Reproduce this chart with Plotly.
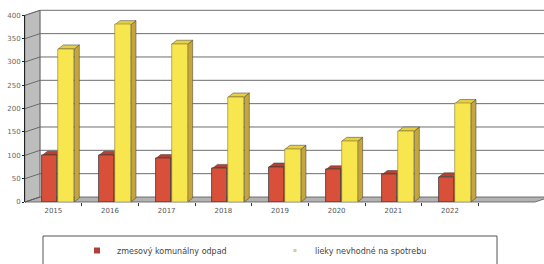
import plotly.graph_objects as go

# ---- data ----
years = ["2015", "2016", "2017", "2018", "2019", "2020", "2021", "2022"]
mixed_waste = [100, 100, 93, 72, 75, 69, 59, 54]
unfit_medicine = [328, 380, 338, 225, 113, 130, 152, 211]
y_ticks = [0, 50, 100, 150, 200, 250, 300, 350, 400]
series_names = ["zmesový komunálny odpad", "lieky nevhodné na spotrebu"]

# ---- geometry (pixels) ----
W_IMG, H_IMG = 544, 264
L, R, T, B = 25, 0, 10, 62
PW = W_IMG - L - R
PH = H_IMG - T - B
BOTTOM = H_IMG - B
X_END = 535
YTOP_FRONT = 186.7
DEPTH_X, DEPTH_Y = 15, 5
SLOT = (X_END - L) / 9.0
PXU = YTOP_FRONT / 400.0

def px(xp):
    return (xp - L) / PW

def py(yp):
    return (BOTTOM - yp) / PH

RED = "#d9503a"
RED_TOP = "#b8402f"
RED_SIDE = "#a33526"
YEL = "#f8e64e"
YEL_TOP = "#e6cf42"
YEL_SIDE = "#c6a63a"
OUT = "#3a3a3a"

xs = list(range(len(years)))
off_r, w_r = -11 / SLOT, 15 / SLOT
off_y, w_y = 5 / SLOT, 16 / SLOT
ddx, ddy = 5 / SLOT, 4 / PXU

fig = go.Figure()
fig.add_trace(go.Bar(x=xs, y=mixed_waste, name=series_names[0], offset=off_r, width=w_r,
                     showlegend=False,
                     marker=dict(color=RED, line=dict(color=OUT, width=0.8))))
fig.add_trace(go.Bar(x=xs, y=unfit_medicine, name=series_names[1], offset=off_y, width=w_y,
                     showlegend=False,
                     marker=dict(color=YEL, line=dict(color="#8a7a30", width=0.6))))
fig.add_trace(go.Scatter(x=[None], y=[None], mode="markers", name=series_names[0],
                         marker=dict(symbol="square", size=6, color="#b0403a")))
fig.add_trace(go.Scatter(x=[None], y=[None], mode="markers", name=series_names[1],
                         marker=dict(symbol="square", size=3, color="#b8d8a0")))

shapes = []
shapes.append(dict(type="path", xref="paper", yref="paper", layer="below",
                   path=f"M {px(L)},{py(BOTTOM)} L {px(L)},{py(BOTTOM-YTOP_FRONT)} "
                        f"L {px(L+DEPTH_X)},{py(BOTTOM-YTOP_FRONT-DEPTH_Y)} L {px(L+DEPTH_X)},{py(BOTTOM-DEPTH_Y)} Z",
                   fillcolor="#bdbdbd", line=dict(color="#888888", width=0.8)))
shapes.append(dict(type="path", xref="paper", yref="paper", layer="below",
                   path=f"M {px(L)},{py(BOTTOM)} L {px(X_END)},{py(BOTTOM)} "
                        f"L {px(X_END+DEPTH_X)},{py(BOTTOM-DEPTH_Y)} L {px(L+DEPTH_X)},{py(BOTTOM-DEPTH_Y)} Z",
                   fillcolor="#b3b3b3", line=dict(color="#555555", width=0.8)))
for v in y_ticks:
    yb = BOTTOM - DEPTH_Y - v * PXU
    yf = BOTTOM - v * PXU
    if v > 0:
        shapes.append(dict(type="line", xref="paper", yref="paper", layer="below",
                           x0=px(L + DEPTH_X), x1=px(W_IMG), y0=py(yb), y1=py(yb),
                           line=dict(color="#6e6e6e", width=1)))
    shapes.append(dict(type="line", xref="paper", yref="paper", layer="below",
                       x0=px(L), x1=px(L + DEPTH_X), y0=py(yf), y1=py(yb),
                       line=dict(color="#555555", width=0.8)))
shapes.append(dict(type="line", xref="paper", yref="paper", layer="below",
                   x0=px(L + DEPTH_X), x1=px(L + DEPTH_X),
                   y0=py(BOTTOM - DEPTH_Y), y1=py(BOTTOM - DEPTH_Y - YTOP_FRONT),
                   line=dict(color="#666666", width=0.8)))

def depth(x0, w, v, top, side):
    x1 = x0 + w
    shapes.append(dict(type="path", xref="x", yref="y", layer="between",
                       path=f"M {x1},{0} L {x1},{v} L {x1+ddx},{v+ddy} L {x1+ddx},{ddy} Z",
                       fillcolor=side, line=dict(color=OUT, width=0.5)))
    shapes.append(dict(type="path", xref="x", yref="y", layer="between",
                       path=f"M {x0},{v} L {x1},{v} L {x1+ddx},{v+ddy} L {x0+ddx},{v+ddy} Z",
                       fillcolor=top, line=dict(color=OUT, width=0.5)))

for i, v in enumerate(mixed_waste):
    depth(i + off_r, w_r, v, RED_TOP, RED_SIDE)
for i, v in enumerate(unfit_medicine):
    depth(i + off_y, w_y, v, YEL_TOP, YEL_SIDE)

shapes.append(dict(type="rect", xref="paper", yref="paper", layer="above",
                   x0=px(43), x1=px(497), y0=py(236), y1=py(280),
                   line=dict(color="#555555", width=1), fillcolor="rgba(0,0,0,0)"))

font = dict(family="DejaVu Sans", size=7, color="#555555")
fig.update_layout(
    width=W_IMG, height=H_IMG,
    margin=dict(l=L, r=R, t=T, b=B, pad=0, autoexpand=False),
    paper_bgcolor="white", plot_bgcolor="rgba(0,0,0,0)",
    barmode="overlay", bargap=0,
    shapes=shapes,
    showlegend=True,
    legend=dict(orientation="h", xref="container", yref="container",
                x=77 / W_IMG, y=1 - 236 / H_IMG, xanchor="left", yanchor="top",
                entrywidth=153, entrywidthmode="pixels",
                font=dict(family="DejaVu Sans", size=8, color="#444444"),
                bgcolor="rgba(0,0,0,0)", borderwidth=0),
    xaxis=dict(domain=[0, px(X_END)], range=[-0.5, 8.5], tickvals=xs, ticktext=years,
               showgrid=False, zeroline=False, showline=False, ticks="", automargin=False,
               tickfont=font, ticklabelstandoff=3,
               minor=dict(tickvals=[i + 0.5 for i in range(8)], ticks="outside",
                          ticklen=3, tickcolor="#333333", showgrid=False)),
    yaxis=dict(domain=[0, YTOP_FRONT / PH], range=[0, 400], tickvals=y_ticks,
               showgrid=False, zeroline=False, showline=True, linecolor="#222222",
               linewidth=1, ticks="outside", ticklen=2, tickcolor="#222222", automargin=False,
               tickfont=dict(family="DejaVu Sans", size=7, color="#666666")),
)

fig.write_html("out.html", config={"displayModeBar": False},
               post_script="document.body.style.margin='0';document.body.style.overflow='hidden';")
